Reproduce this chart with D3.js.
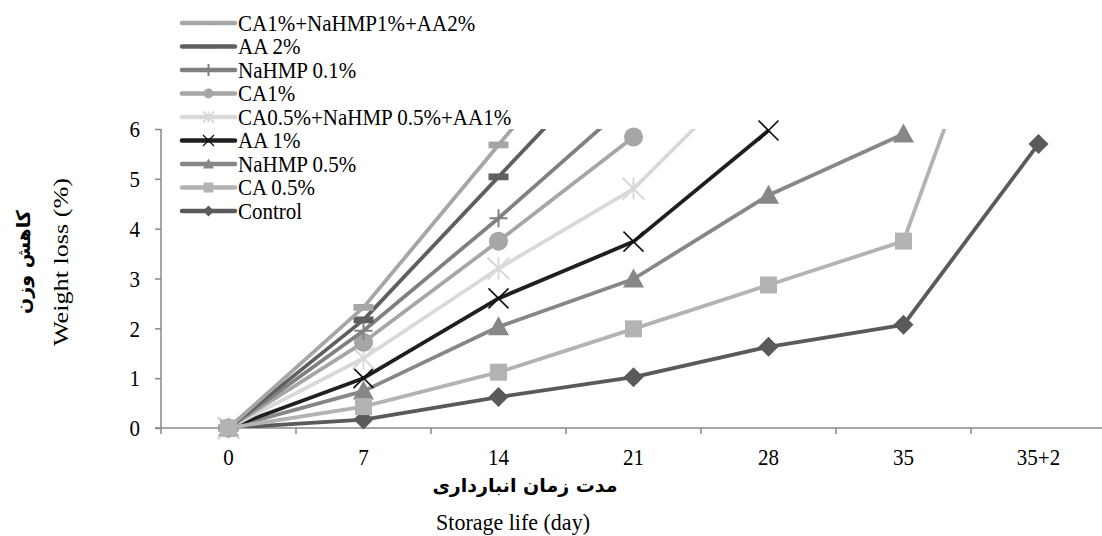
<!DOCTYPE html>
<html>
<head>
<meta charset="utf-8">
<script src="https://cdn.jsdelivr.net/npm/d3@7"></script>
<style>
  html, body { margin: 0; padding: 0; background: #fff; }
  svg { display: block; }
  text { font-family: "Liberation Serif", "Times New Roman", serif; fill: #000; }
  .fa { font-family: "DejaVu Sans", sans-serif; }
</style>
</head>
<body>
<svg id="chart" width="1102" height="536"></svg>
<script>
// ---------- data ----------
const categories = ["0", "7", "14", "21", "28", "35", "35+2"];
const yTicks = [0, 1, 2, 3, 4, 5, 6];

const seriesNames = [
  "CA1%+NaHMP1%+AA2%",
  "AA 2%",
  "NaHMP 0.1%",
  "CA1%",
  "CA0.5%+NaHMP 0.5%+AA1%",
  "AA 1%",
  "NaHMP 0.5%",
  "CA 0.5%",
  "Control"
];
const mix1Values    = [0, 2.42, 5.68, 8.9, null, null, null];
const aa2Values     = [0, 2.17, 5.04, 7.9, null, null, null];
const nahmp01Values = [0, 1.95, 4.21, 6.6, null, null, null];
const ca1Values     = [0, 1.72, 3.75, 5.84, null, null, null];
const mix05Values   = [0, 1.4, 3.2, 4.8, 7.5, null, null];
const aa1Values     = [0, 1.0, 2.6, 3.74, 5.97, null, null];
const nahmp05Values = [0, 0.74, 2.03, 2.99, 4.67, 5.9, null];
const ca05Values    = [0, 0.43, 1.12, 1.99, 2.87, 3.75, 11.2];
const controlValues = [0, 0.17, 0.62, 1.02, 1.63, 2.07, 5.7];

// ---------- styles ----------
const seriesStyle = [
  { values: mix1Values,    color: "#a6a6a6", marker: "dash" },
  { values: aa2Values,     color: "#5f5f5f", marker: "dash" },
  { values: nahmp01Values, color: "#808080", marker: "plus" },
  { values: ca1Values,     color: "#a6a6a6", marker: "circle" },
  { values: mix05Values,   color: "#d9d9d9", marker: "star" },
  { values: aa1Values,     color: "#1f1f1f", marker: "x" },
  { values: nahmp05Values, color: "#878787", marker: "triangle" },
  { values: ca05Values,    color: "#b3b3b3", marker: "square" },
  { values: controlValues, color: "#5a5a5a", marker: "diamond" }
];

const svg = d3.select("#chart");
const plotLeft = 161, plotRight = 1106, plotTop = 129, plotBottom = 428;
const axisColor = "#888888";

const x = d3.scaleBand().domain(categories).range([plotLeft, plotRight]);
const y = d3.scaleLinear().domain([0, 6]).range([plotBottom, plotTop]);
const cx = c => x(c) + x.bandwidth() / 2;

// make text slightly taller while keeping its width (reference glyphs are tall)
function tallText(sel, baseSize, factor) {
  sel.each(function () {
    const t = d3.select(this);
    t.attr("font-size", baseSize);
    const w = this.getComputedTextLength();
    t.attr("font-size", baseSize * factor)
     .attr("textLength", w).attr("lengthAdjust", "spacingAndGlyphs");
  });
}

function drawMarker(g, type, px, py, s, color) {
  if (type === "square") {
    g.append("rect").attr("x", px - s/2).attr("y", py - s/2).attr("width", s).attr("height", s).attr("fill", color);
  } else if (type === "diamond") {
    const r = s / 2;
    g.append("path").attr("d", `M${px},${py-r}L${px+r},${py}L${px},${py+r}L${px-r},${py}Z`).attr("fill", color);
  } else if (type === "triangle") {
    const r = s / 2;
    g.append("path").attr("d", `M${px},${py-r}L${px+r},${py+r*0.8}L${px-r},${py+r*0.8}Z`).attr("fill", color);
  } else if (type === "circle") {
    g.append("circle").attr("cx", px).attr("cy", py).attr("r", s/2).attr("fill", color);
  } else if (type === "x") {
    const r = s / 2;
    g.append("path").attr("d", `M${px-r},${py-r}L${px+r},${py+r}M${px+r},${py-r}L${px-r},${py+r}`)
      .attr("stroke", "#111").attr("stroke-width", s > 14 ? 1.6 : 1.3).attr("fill", "none");
  } else if (type === "star") {
    const r = s / 2;
    g.append("path").attr("d", `M${px-r},${py-r}L${px+r},${py+r}M${px+r},${py-r}L${px-r},${py+r}M${px},${py-r}L${px},${py+r}`)
      .attr("stroke", color).attr("stroke-width", 2).attr("fill", "none");
  } else if (type === "plus") {
    const r = s / 2;
    g.append("path").attr("d", `M${px-r},${py}L${px+r},${py}M${px},${py-r}L${px},${py+r}`)
      .attr("stroke", color).attr("stroke-width", 2).attr("fill", "none");
  } else if (type === "dash") {
    g.append("rect").attr("x", px - s/2).attr("y", py - s*0.17).attr("width", s).attr("height", s*0.34).attr("fill", color);
  }
}

// ---------- axes ----------
const yAxis = d3.axisLeft(y).tickValues(yTicks).tickSize(6).tickPadding(15).tickFormat(d3.format("d"));
const gy = svg.append("g").attr("transform", `translate(${plotLeft},0)`).call(yAxis);
gy.select(".domain").attr("stroke", axisColor).attr("stroke-width", 1.5).attr("d", `M0,${plotTop}V${plotBottom}`);
gy.selectAll(".tick line").attr("stroke", axisColor).attr("stroke-width", 1.5);
gy.selectAll(".tick text").attr("font-family", "Liberation Serif").attr("fill", "#000").attr("dy", "0.34em");
tallText(gy.selectAll(".tick text"), 21, 1.08);

const xAxis = d3.axisBottom(x).tickSize(0).tickPadding(22);
const gx = svg.append("g").attr("transform", `translate(0,${plotBottom})`).call(xAxis);
gx.select(".domain").attr("stroke", axisColor).attr("stroke-width", 1.5).attr("d", `M${plotLeft-6},0H${plotRight}`);
gx.selectAll(".tick text").attr("font-family", "Liberation Serif").attr("fill", "#000").attr("dy", "0.68em");
tallText(gx.selectAll(".tick text"), 21, 1.08);
// boundary tick marks
svg.append("g").selectAll("line").data(categories.concat(["end"])).join("line")
  .attr("x1", d => d === "end" ? plotRight : x(d)).attr("x2", d => d === "end" ? plotRight : x(d))
  .attr("y1", plotBottom).attr("y2", plotBottom + 6)
  .attr("stroke", axisColor).attr("stroke-width", 1.5);

// ---------- series ----------
svg.append("clipPath").attr("id", "plotclip")
  .append("rect").attr("x", plotLeft).attr("y", plotTop).attr("width", plotRight - plotLeft).attr("height", plotBottom - plotTop);

const line = d3.line()
  .defined(d => d.v != null)
  .x(d => cx(d.c)).y(d => y(d.v));

const markerSize = { square: 17, diamond: 20, triangle: 21, circle: 19, x: 20, star: 22, plus: 18, dash: 20 };
const legendMarkerSize = { square: 10, diamond: 11, triangle: 11, circle: 10, x: 11, star: 11, plus: 12, dash: 10 };

const drawOrder = [8, 6, 5, 4, 3, 2, 1, 0, 7];
drawOrder.forEach(i => {
  const s = seriesStyle[i];
  const pts = categories.map((c, j) => ({ c, v: s.values[j] }));
  const g = svg.append("g");
  g.append("path").datum(pts).attr("d", line)
    .attr("fill", "none").attr("stroke", s.color).attr("stroke-width", 3.8)
    .attr("stroke-linejoin", "round").attr("clip-path", "url(#plotclip)");
  pts.filter(p => p.v != null && p.v <= 6.05).forEach(p => {
    drawMarker(g, s.marker, cx(p.c), y(p.v), markerSize[s.marker], s.color);
  });
});

// ---------- legend ----------
const legend = svg.append("g");
seriesStyle.forEach((s, i) => {
  const ly = 23 + i * 23.5;
  const g = legend.append("g");
  g.append("line").attr("x1", 182).attr("x2", 235).attr("y1", ly).attr("y2", ly)
    .attr("stroke", s.color).attr("stroke-width", 4.5).attr("stroke-linecap", "round");
  drawMarker(g, s.marker, 208.5, ly, legendMarkerSize[s.marker], s.color);
  g.append("text").attr("class", "legtext").attr("x", 238).attr("y", ly).attr("dy", "0.34em")
    .text(seriesNames[i]);
});
tallText(legend.selectAll("text.legtext"), 21, 1.08);

// ---------- titles ----------
svg.append("text").attr("class", "fa").attr("x", 525).attr("y", 492)
  .attr("text-anchor", "middle").attr("font-size", 19).attr("font-weight", "bold")
  .attr("direction", "rtl").attr("unicode-bidi", "embed")
  .text("مدت زمان انبارداری");
const storage = svg.append("text").attr("x", 513).attr("y", 530)
  .attr("text-anchor", "middle").text("Storage life (day)");
tallText(storage, 22, 1.06);

const yt = svg.append("g").attr("transform", "translate(0,262) rotate(-90)");
yt.append("text").attr("class", "fa").attr("x", 0).attr("y", 30)
  .attr("text-anchor", "middle").attr("font-size", 19).attr("font-weight", "bold")
  .attr("direction", "rtl").attr("unicode-bidi", "embed")
  .text("کاهش وزن");
yt.append("text").attr("x", 0).attr("y", 68)
  .attr("text-anchor", "middle").attr("font-size", 22)
  .attr("textLength", 168).attr("lengthAdjust", "spacingAndGlyphs")
  .text("Weight loss (%)");
</script>
</body>
</html>
